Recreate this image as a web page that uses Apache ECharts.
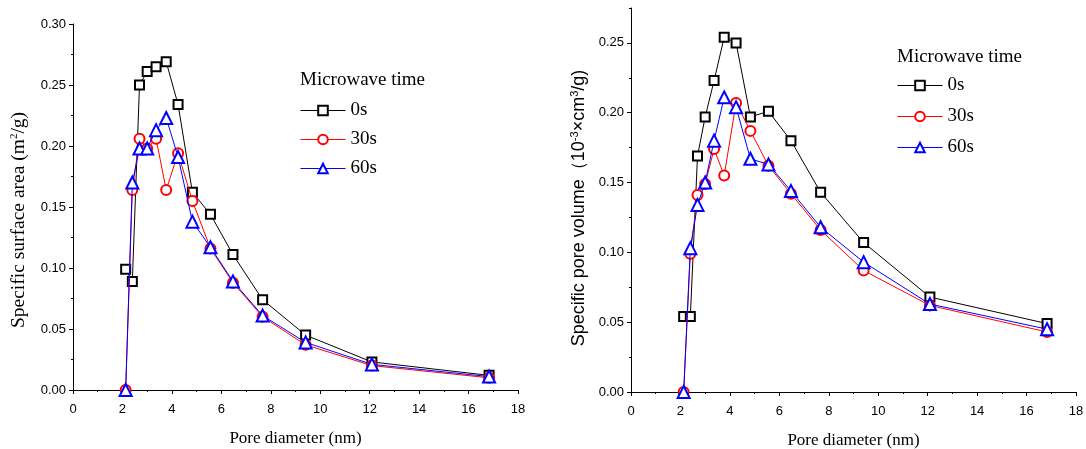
<!DOCTYPE html>
<html>
<head>
<meta charset="utf-8">
<script src="https://cdn.jsdelivr.net/npm/echarts@6/dist/echarts.min.js"></script>
<style>
html,body{margin:0;padding:0;background:#fff;}
#chart{width:1086px;height:449px;}
</style>
</head>
<body>
<div id="chart"></div>
<script>
// Pore diameter (nm) shared by both panels
const poreDiameter = [2.13, 2.40, 2.69, 3.00, 3.36, 3.77, 4.25, 4.83, 5.56, 6.47, 7.67, 9.41, 12.09, 16.83];
// Left panel: specific surface area (m2/g)
const area0s  = [0.099, 0.089, 0.250, 0.261, 0.265, 0.269, 0.234, 0.162, 0.144, 0.111, 0.074, 0.045, 0.023, 0.012];
const area30s = [0.000, 0.164, 0.206, 0.198, 0.206, 0.164, 0.194, 0.155, 0.116, 0.088, 0.060, 0.037, 0.020, 0.010];
const area60s = [0.000, 0.170, 0.198, 0.198, 0.213, 0.223, 0.191, 0.138, 0.117, 0.089, 0.061, 0.039, 0.021, 0.011];
// Right panel: specific pore volume (10^-3 cm3/g)
const vol0s  = [0.054, 0.054, 0.169, 0.197, 0.223, 0.254, 0.250, 0.197, 0.201, 0.180, 0.143, 0.107, 0.068, 0.049];
const vol30s = [0.000, 0.099, 0.141, 0.149, 0.174, 0.155, 0.207, 0.187, 0.162, 0.142, 0.116, 0.087, 0.062, 0.043];
const vol60s = [0.000, 0.103, 0.134, 0.150, 0.180, 0.211, 0.204, 0.167, 0.163, 0.144, 0.118, 0.093, 0.063, 0.045];
const seriesNames = ['0s', '30s', '60s'];
const legendTitle = 'Microwave time';
const xTicks = [0, 2, 4, 6, 8, 10, 12, 14, 16, 18];
const yTicksLeft = [0, 0.05, 0.10, 0.15, 0.20, 0.25, 0.30];
const yTicksRight = [0, 0.05, 0.10, 0.15, 0.20, 0.25];

const pairs = (ys) => poreDiameter.map((x, i) => [x, ys[i]]);
const serif = 'Liberation Serif';
const sans = 'Liberation Sans';
const styles = [
  {symbol: 'emptyRect', size: 9, color: '#000000'},
  {symbol: 'emptyCircle', size: 10, color: '#ff0000'},
  {symbol: 'emptyTriangle', size: 12, color: '#0000ff'}
];

function makeSeries(ys, idx, grid) {
  const s = styles[idx];
  return {
    type: 'line', name: seriesNames[idx],
    xAxisIndex: grid, yAxisIndex: grid === 0 ? 0 : 1,
    data: pairs(ys),
    symbol: s.symbol, symbolSize: s.size,
    showSymbol: true,
    itemStyle: {color: s.color, borderColor: s.color, borderWidth: 1},
    lineStyle: {color: s.color, width: 1},
    emphasis: {disabled: true},
    z: 2 + idx
  };
}

function xAxisCfg(grid) {
  return {
    type: 'value', gridIndex: grid, min: 0, max: 18, interval: 2,
    name: 'Pore diameter (nm)', nameLocation: 'middle', nameGap: 40,
    nameTextStyle: {fontFamily: serif, fontSize: 17, color: '#000'},
    axisLine: {show: true, onZero: false, lineStyle: {color: '#000', width: 1}},
    axisTick: {show: true, length: 4, lineStyle: {color: '#000'}},
    minorTick: {show: true, splitNumber: 2, length: 2, lineStyle: {color: '#000'}},
    splitLine: {show: false},
    axisLabel: {fontFamily: sans, fontSize: 13, color: '#000', margin: 13,
      customValues: xTicks}
  };
}

function legendCfg(left, top, gap) {
  return {left: left, top: top, orient: 'vertical', padding: 0, itemGap: gap,
    itemWidth: 45, itemHeight: 12, selectedMode: false, data: seriesNames,
    lineStyle: {width: 1},
    itemStyle: {borderWidth: 1},
    textStyle: {fontFamily: serif, fontSize: 19, color: '#000'}};
}

const chart = echarts.init(document.getElementById('chart'), null, {renderer: 'canvas'});
chart.setOption({
  animation: false,
  backgroundColor: '#fff',
  grid: [
    {left: 73, top: 24, width: 445, height: 366, containLabel: false, outerBoundsMode: 'none'},
    {left: 631, top: 8, width: 445, height: 384, containLabel: false, outerBoundsMode: 'none'}
  ],
  title: [
    {text: legendTitle, left: 300, top: 71, padding: 0,
     textStyle: {fontFamily: serif, fontSize: 19, fontWeight: 'normal', color: '#000'}},
    {text: legendTitle, left: 897, top: 48, padding: 0,
     textStyle: {fontFamily: serif, fontSize: 19, fontWeight: 'normal', color: '#000'}}
  ],
  legend: [legendCfg(300, 101, 10), legendCfg(897, 76, 12)],
  xAxis: [xAxisCfg(0), xAxisCfg(1)],
  yAxis: [
    {
      type: 'value', gridIndex: 0, min: 0, max: 0.30, interval: 0.05,
      name: '{t|Specific surface area (m}{s|2}{t|/g)}',
      nameLocation: 'middle', nameRotate: 90, nameGap: 44,
      nameTextStyle: {padding: [0, 26, 0, 0], rich: {
        t: {fontFamily: serif, fontSize: 19.5, color: '#000'},
        s: {fontFamily: serif, fontSize: 11, color: '#000', padding: [0, 0, 9, 0]}
      }},
      axisLine: {show: true, onZero: false, lineStyle: {color: '#000', width: 1}},
      axisTick: {show: true, length: 4, lineStyle: {color: '#000'}},
      minorTick: {show: true, splitNumber: 2, length: 2, lineStyle: {color: '#000'}},
      splitLine: {show: false},
      axisLabel: {fontFamily: sans, fontSize: 13, color: '#000', margin: 7,
        customValues: yTicksLeft, formatter: (v) => v.toFixed(2)}
    },
    {
      type: 'value', gridIndex: 1, min: 0, max: 0.275, interval: 0.05,
      name: '{t|Specific pore volume（10}{s|-3}{t|×cm}{s|3}{t|/g)}',
      nameLocation: 'middle', nameRotate: 90, nameGap: 42,
      nameTextStyle: {padding: [0, 16, 0, 0], rich: {
        t: {fontFamily: sans, fontSize: 18, color: '#000'},
        s: {fontFamily: sans, fontSize: 11, color: '#000', padding: [0, 0, 9, 0]}
      }},
      axisLine: {show: true, onZero: false, lineStyle: {color: '#000', width: 1}},
      axisTick: {show: true, length: 4, lineStyle: {color: '#000'}, customValues: yTicksRight},
      minorTick: {show: false},
      splitLine: {show: false},
      axisLabel: {fontFamily: sans, fontSize: 13, color: '#000', margin: 7,
        customValues: yTicksRight, formatter: (v) => v.toFixed(2)}
    },
    {
      type: 'value', gridIndex: 1, min: 0, max: 0.275, interval: 0.025, position: 'left',
      axisLine: {show: false},
      axisTick: {show: true, length: 2, lineStyle: {color: '#000'}},
      axisLabel: {show: false},
      splitLine: {show: false}
    }
  ],
  series: [
    makeSeries(area0s, 0, 0), makeSeries(area30s, 1, 0), makeSeries(area60s, 2, 0),
    makeSeries(vol0s, 0, 1), makeSeries(vol30s, 1, 1), makeSeries(vol60s, 2, 1)
  ]
});
</script>
</body>
</html>
